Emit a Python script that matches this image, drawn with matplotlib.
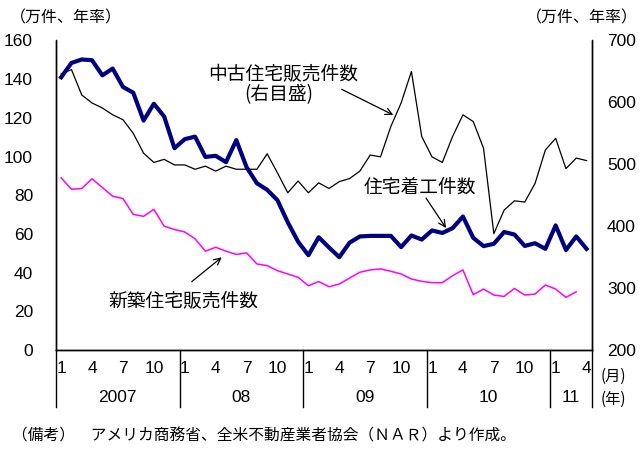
import matplotlib
matplotlib.use('Agg')
import matplotlib.pyplot as plt
import matplotlib.transforms as mtransforms
from matplotlib.lines import Line2D
import numpy as np

## Fonts
NUM = ['Liberation Sans Narrow', 'Liberation Sans', 'DejaVu Sans']
JP = ['Noto Sans CJK JP', 'DejaVu Sans']
plt.rcParams['font.family'] = NUM

## Data (Jan 2007 - Apr 2011, monthly)
# housing starts, 10k units annual rate (left axis)
starts = [141, 148.4, 150.2, 149.8, 142, 145.5, 136, 133, 118.6, 127.3, 120.7, 104.3,
          109, 110.3, 99.8, 100.4, 97.1, 108.5, 94.5, 86.2, 82.8, 77.4, 66, 56,
          49, 58.3, 53, 48, 55.5, 58.7, 59, 59, 59, 53.2, 59.2, 57.1,
          61.8, 60.5, 63, 69, 58, 53.7, 54.9, 61, 59.7, 53.8, 55.2, 52.3,
          64.4, 51.7, 58.7, 52.3]
# existing home sales, 10k units annual rate (right axis)
existing = [646, 653, 612, 599, 591, 580, 572, 550, 518, 503, 508, 499,
            499, 492, 497, 489, 497, 492, 492, 492, 517, 486, 454, 473,
            454, 470, 461, 472, 477, 489, 515, 512, 561, 599, 650, 545,
            512, 503, 545, 580, 569, 526, 388, 426, 441, 439, 469, 523,
            542, 493, 510, 506]
# new home sales, 10k units annual rate (left axis), up to Mar 2011
new_sales = [89, 83.1, 83.5, 88.5, 84, 79.5, 78.3, 70.1, 69.1, 72.7, 64, 62.3,
             61, 57.5, 51.1, 53.1, 51.1, 49.4, 50.2, 44.5, 43.6, 41, 39.3, 37.6,
             33.2, 35.4, 32.7, 34.1, 37.2, 40.2, 41.4, 41.9, 40.7, 39.3, 36.7, 35.5,
             34.8, 34.8, 38.4, 41.4, 28.6, 31.5, 28.4, 27.7, 31.8, 28.4, 28.9, 33.6,
             31.5, 27.2, 30.1]
years = ['2007', '08', '09', '10', '11']
year_months = [12, 12, 12, 12, 4]
month_ticks = [1, 4, 7, 10]
left_ticks = [0, 20, 40, 60, 80, 100, 120, 140, 160]
right_ticks = [200, 300, 400, 500, 600, 700]

W, H = 642, 451
def px(x, y):
    return (x / W, 1 - y / H)

fig = plt.figure(figsize=(W / 100, H / 100), dpi=100)
ax = fig.add_axes([56 / W, 1 - 350 / H, (591.7 - 56) / W, (350 - 40.5) / H])
ax2 = ax.twinx()
ax.set_zorder(ax2.get_zorder() + 1)
ax.patch.set_visible(False)

## Lines
ax2.plot(np.arange(len(existing)), existing, color='black', lw=0.9)
ax.plot(np.arange(len(new_sales)), new_sales, color='#FF00FF', lw=1.1)
ax.plot(np.arange(len(starts)), starts, color='#000080', lw=3.0, solid_joinstyle='round')

n = len(starts)
ax.set_xlim(-0.5, n - 0.5)
ax.set_ylim(0, 160)
ax2.set_ylim(200, 700)
ax.set_yticks(left_ticks)
ax2.set_yticks(right_ticks)
ax.set_xticks([])
for a in (ax, ax2):
    a.spines['top'].set_visible(False)
    for s in ('left', 'right', 'bottom'):
        a.spines[s].set_linewidth(1.0)
ax.tick_params(axis='y', length=0, pad=16.5, labelsize=12.5)
ax2.tick_params(axis='y', length=0, pad=11, labelsize=12.5)

## X axis: months and years with separators
trans = mtransforms.blended_transform_factory(ax.transData, ax.transAxes)
y_month = -0.061
y_year = -0.155
y_sep = -0.184
start = 0
for yr, cnt in zip(years, year_months):
    for m in month_ticks:
        if m <= cnt:
            ax.text(start + m - 1, y_month, str(m), transform=trans, ha='center',
                    va='center', fontsize=12.5, family=NUM)
    ax.text(start + (cnt - 1) / 2, y_year, yr, transform=trans, ha='center',
            va='center', fontsize=12.5, family=NUM)
    ax.add_line(Line2D([start - 0.5, start - 0.5], [0, y_sep], transform=trans,
                       color='black', lw=1.0, clip_on=False))
    start += cnt
ax.add_line(Line2D([start - 0.5, start - 0.5], [0, y_sep], transform=trans,
                   color='black', lw=1.0, clip_on=False))

## Unit labels
fig.text(*px(66, 18), '（万件、年率）', ha='center', va='center', fontsize=11.5, family=JP)
fig.text(*px(582, 18), '（万件、年率）', ha='center', va='center', fontsize=11.5, family=JP)
fig.text(*px(613, 376), '(月)', ha='center', va='center', fontsize=11, family=JP)
fig.text(*px(613, 399), '(年)', ha='center', va='center', fontsize=11, family=JP)

## Series labels and arrows
fig.text(*px(283, 75), '中古住宅販売件数', ha='center', va='center', fontsize=13.5, family=JP)
fig.text(*px(279, 95), '(右目盛)', ha='center', va='center', fontsize=13.5, family=JP)
fig.text(*px(420, 187), '住宅着工件数', ha='center', va='center', fontsize=13.5, family=JP)
fig.text(*px(183, 301), '新築住宅販売件数', ha='center', va='center', fontsize=13.5, family=JP)

arrow = dict(arrowstyle='->', color='black', lw=0.9, mutation_scale=12, shrinkA=0, shrinkB=0)
for tail, head in [((341.7, 89.3), (393.3, 115)),
                   ((426, 198), (446, 228)),
                   ((191.7, 281.7), (221.7, 257.3))]:
    fig.add_artist(matplotlib.patches.FancyArrowPatch(px(*tail), px(*head),
                   transform=fig.transFigure, **arrow))

## Note
fig.text(*px(12, 436), '（備考）　アメリカ商務省、全米不動産業者協会（ＮＡＲ）より作成。',
         ha='left', va='center', fontsize=11.3, family=JP)

fig.savefig('out.png', dpi=100)
